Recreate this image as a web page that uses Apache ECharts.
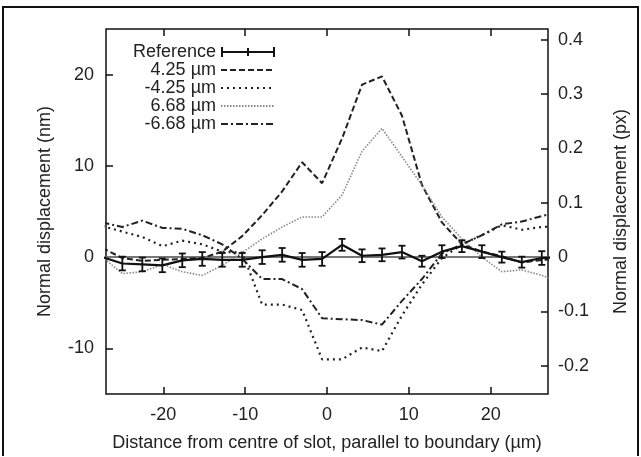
<!DOCTYPE html>
<html>
<head>
<meta charset="utf-8">
<script src="https://cdn.jsdelivr.net/npm/echarts@6/dist/echarts.min.js"></script>
<style>
html,body{margin:0;padding:0;background:#fff;}
#c{width:641px;height:457px;}
</style>
</head>
<body>
<div id="c"></div>
<script>
// x positions (µm)
const xs = [-27.44, -25, -22.56, -20.12, -17.68, -15.24, -12.8, -10.36, -7.92, -5.48, -3.04, -0.6, 1.84, 4.28, 6.72, 9.16, 11.6, 14.04, 16.48, 18.92, 21.36, 23.8, 26.24, 28.68];
// Reference (nm) with error
const refY = [0.0, -0.7, -0.8, -0.9, -0.35, -0.2, -0.3, -0.3, 0.0, 0.25, -0.3, -0.2, 1.35, 0.15, 0.25, 0.55, -0.45, 0.6, 1.2, 0.6, 0.0, -0.55, -0.1, 0.0];
const refErr = [0.75, 0.75, 0.75, 0.75, 0.75, 0.75, 0.75, 0.75, 0.75, 0.75, 0.75, 0.75, 0.65, 0.7, 0.7, 0.7, 0.6, 0.7, 0.65, 0.7, 0.6, 0.6, 0.75, 0.75];
const s425 = [1.0, -0.1, -0.4, -0.3, -0.2, -0.1, 0.6, 2.3, 4.6, 7.2, 10.4, 8.1, 13.0, 18.9, 19.8, 15.5, 7.9, 3.8, 1.4, 0.6, 0.1, -0.6, -0.3, -0.2];
const sm425 = [3.4, 2.8, 2.2, 1.2, 1.8, 1.4, 0.6, 0.5, -5.2, -5.2, -5.8, -11.2, -11.2, -9.9, -10.3, -6.4, -3.0, -0.1, 1.4, 2.4, 3.5, 3.0, 3.3, 3.4];
const s668 = [0.0, -1.8, -1.6, -0.8, -1.6, -2.0, -0.9, 0.5, 2.0, 3.3, 4.4, 4.4, 6.8, 11.6, 14.1, 11.0, 7.9, 4.4, 2.0, 0.0, -1.6, -1.4, -2.0, -2.8];
const sm668 = [3.8, 3.3, 4.0, 3.2, 3.1, 2.4, 1.4, -0.2, -2.4, -2.4, -3.5, -6.7, -6.8, -6.9, -7.4, -4.8, -2.4, 0.4, 1.4, 2.4, 3.6, 3.9, 4.5, 5.0];
// ticks
const xTicks = [-20, -10, 0, 10, 20];
const yTicks = [-10, 0, 10, 20];
const y2Ticks = [-0.2, -0.1, 0, 0.1, 0.2, 0.3, 0.4];
const names = ['Reference', '4.25 µm', '-4.25 µm', '6.68 µm', '-6.68 µm'];

const NM_PER_PX = 59.55;
const FONT = '"Liberation Sans", Arial, sans-serif';
const pair = a => xs.map((x, i) => [x, a[i]]);

const chart = echarts.init(document.getElementById('c'), null, {renderer: 'canvas'});
const tickStyle = {show: true, inside: true, length: 7, lineStyle: {color: '#111', width: 1.5}};
const noLine = {show: false, onZero: false};
const option = {
  animation: false,
  backgroundColor: '#fff',
  textStyle: {fontFamily: FONT},
  grid: {left: 106, right: 93, top: 29, bottom: 55, show: true, borderColor: '#111', borderWidth: 1.5, containLabel: false},
  legend: {
    data: [
      {name: names[0], icon: 'path://M0,0H2V4H26V1H28V4H52V0H54V10H52V6H28V9H26V6H2V10H0Z'},
      {name: names[1], itemStyle: {opacity: 0}},
      {name: names[2], itemStyle: {opacity: 0}},
      {name: names[3], itemStyle: {opacity: 0}},
      {name: names[4], itemStyle: {opacity: 0}}
    ],
    orient: 'vertical', align: 'right', left: 121, top: 38,
    itemWidth: 54, itemHeight: 10, itemGap: 0,
    textStyle: {fontFamily: FONT, fontSize: 18, color: '#222', width: 90, lineHeight: 18},
    selectedMode: false
  },
  xAxis: [{
    type: 'value', min: -27, max: 27, position: 'bottom',
    name: 'Distance from centre of slot, parallel to boundary (µm)',
    nameLocation: 'middle', nameGap: 40,
    nameTextStyle: {fontFamily: FONT, fontSize: 18, color: '#222'},
    axisLine: noLine, splitLine: {show: false},
    axisTick: Object.assign({customValues: xTicks}, tickStyle),
    axisLabel: {customValues: xTicks, fontFamily: FONT, fontSize: 18, color: '#222', margin: 12}
  }, {
    type: 'value', min: -27, max: 27, position: 'top',
    axisLine: noLine, splitLine: {show: false},
    axisTick: Object.assign({customValues: xTicks}, tickStyle),
    axisLabel: {show: false}
  }],
  yAxis: [{
    type: 'value', min: -15, max: 25, position: 'left',
    name: 'Normal displacement (nm)', nameLocation: 'middle', nameGap: 52,
    nameTextStyle: {fontFamily: FONT, fontSize: 18, color: '#222'},
    axisLine: noLine, splitLine: {show: false},
    axisTick: Object.assign({customValues: yTicks}, tickStyle),
    axisLabel: {customValues: yTicks, fontFamily: FONT, fontSize: 18, color: '#222', margin: 12}
  }, {
    type: 'value', min: -15 / NM_PER_PX, max: 25 / NM_PER_PX, position: 'right',
    name: 'Normal displacement (px)', nameLocation: 'middle', nameGap: 64, nameRotate: 90,
    nameTextStyle: {fontFamily: FONT, fontSize: 18, color: '#222'},
    axisLine: noLine, splitLine: {show: false},
    axisTick: Object.assign({customValues: y2Ticks}, tickStyle),
    axisLabel: {customValues: y2Ticks, fontFamily: FONT, fontSize: 18, color: '#222', margin: 10,
      formatter: v => { const r = Math.round(v * 10) / 10; return r === 0 ? '0' : r.toFixed(1); }}
  }],
  series: [
    {
      name: names[1], type: 'line', data: pair(s425), symbol: 'none', clip: true,
      lineStyle: {color: '#222', width: 2, type: [6, 3]}, itemStyle: {color: '#222'}, z: 3
    },
    {
      name: names[2], type: 'line', data: pair(sm425), symbol: 'none', clip: true,
      lineStyle: {color: '#222', width: 2.2, type: [2, 4]}, itemStyle: {color: '#222'}, z: 3
    },
    {
      name: names[3], type: 'line', data: pair(s668), symbol: 'none', clip: true,
      lineStyle: {color: '#888', width: 1.6, type: [1.5, 1.5]}, itemStyle: {color: '#888'}, z: 3
    },
    {
      name: names[4], type: 'line', data: pair(sm668), symbol: 'none', clip: true,
      lineStyle: {color: '#222', width: 2, type: [7, 3, 2, 3]}, itemStyle: {color: '#222'}, z: 3
    },
    {
      name: names[0], type: 'line', data: pair(refY), symbol: 'none', clip: true,
      lineStyle: {color: '#111', width: 2.2}, itemStyle: {color: '#111'}, z: 5,
      markLine: {silent: true, symbol: 'none', label: {show: false},
        lineStyle: {color: '#777', width: 2, type: 'solid'}, data: [{yAxis: 0}], z: 2}
    },
    {
      name: names[0], type: 'custom', clip: true, z: 6,
      data: xs.map((x, i) => [x, refY[i] - refErr[i], refY[i] + refErr[i]]),
      renderItem: function (params, api) {
        const lo = api.coord([api.value(0), api.value(1)]);
        const hi = api.coord([api.value(0), api.value(2)]);
        const w = 3.5;
        const st = {stroke: '#111', lineWidth: 1.8, fill: null};
        return {type: 'group', children: [
          {type: 'line', shape: {x1: lo[0], y1: lo[1], x2: hi[0], y2: hi[1]}, style: st},
          {type: 'line', shape: {x1: lo[0] - w, y1: lo[1], x2: lo[0] + w, y2: lo[1]}, style: st},
          {type: 'line', shape: {x1: hi[0] - w, y1: hi[1], x2: hi[0] + w, y2: hi[1]}, style: st}
        ]};
      },
      encode: {x: 0, y: [1, 2]}
    }
  ],
  graphic: [
    {type: 'polyline', shape: {points: [[3, 456], [3, 7], [638, 7], [638, 456]]},
      style: {stroke: '#111', lineWidth: 2, fill: null}, silent: true}
  ]
};
chart.setOption(option);
</script>
</body>
</html>
